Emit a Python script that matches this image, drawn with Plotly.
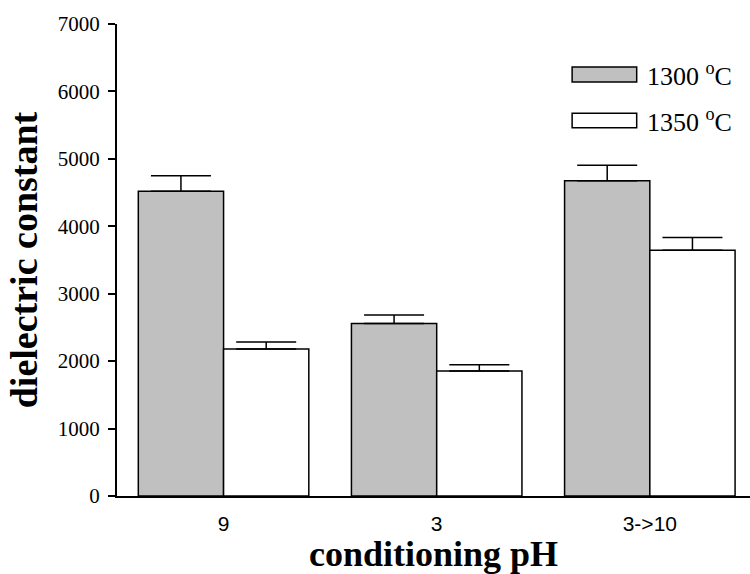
import plotly.graph_objects as go

categories = ["9", "3", "3->10"]
series_names = ["1300 <sup>o</sup>C", "1350 <sup>o</sup>C"]
values_1300 = [4520, 2560, 4675]
errors_1300 = [230, 125, 230]
values_1350 = [2180, 1855, 3645]
errors_1350 = [105, 90, 188]
y_ticks = [0, 1000, 2000, 3000, 4000, 5000, 6000, 7000]

fills = ["#c0c0c0", "#ffffff"]
serif = "Liberation Serif"
sans = "Liberation Sans"

fig = go.Figure()
for name, vals, errs, fill in zip(series_names, [values_1300, values_1350],
                                  [errors_1300, errors_1350], fills):
    fig.add_trace(go.Bar(
        x=categories, y=vals, name=name,
        marker=dict(color=fill, line=dict(color="#000000", width=1.5)),
        error_y=dict(type="data", array=errs, arrayminus=[0] * len(errs),
                     symmetric=False, color="#000000", thickness=1.5, width=30),
        showlegend=False,
    ))

fig.update_layout(
    width=750, height=574,
    margin=dict(l=117, r=0, t=24, b=78, autoexpand=False),
    paper_bgcolor="white", plot_bgcolor="white",
    barmode="group", bargap=0.2, bargroupgap=0,
    font=dict(family=serif, color="black", size=20),
    xaxis=dict(
        type="category", range=[-0.5, 2.47], automargin=False,
        showline=True, linecolor="black", linewidth=2,
        ticks="", showgrid=False, zeroline=False,
        tickfont=dict(family=sans, size=21, color="black"),
        ticklabelstandoff=8,
        title=dict(text="<b>conditioning pH</b>",
                   font=dict(family=serif, size=36, color="black"), standoff=4),
    ),
    yaxis=dict(
        range=[0, 7000], tickvals=y_ticks, automargin=False,
        showline=True, linecolor="black", linewidth=2,
        ticks="outside", ticklen=7, tickwidth=2, tickcolor="black",
        showgrid=False, zeroline=False,
        tickfont=dict(family=serif, size=21, color="black"),
        ticklabelstandoff=4,
        title=dict(text="<b>dielectric constant</b>",
                   font=dict(family=serif, size=38, color="black"), standoff=8),
    ),
)

# custom legend keys (wide rectangles) and labels
legend_rows = [(0.909, 0.877), (0.811, 0.780)]
for (y1, y0), fill, name in zip(legend_rows, fills, series_names):
    fig.add_shape(type="rect", xref="x domain", yref="y domain",
                  x0=0.719, x1=0.821, y0=y0, y1=y1,
                  fillcolor=fill, line=dict(color="black", width=1.5))
    fig.add_annotation(xref="x domain", yref="y domain", x=0.834, y=(y0 + y1) / 2,
                       text=name, showarrow=False, xanchor="left", yanchor="middle",
                       font=dict(family=serif, size=26, color="black"))

fig.write_html("out.html", config={"displayModeBar": False},
               post_script="document.body.style.margin='0';document.body.style.padding='0';")
